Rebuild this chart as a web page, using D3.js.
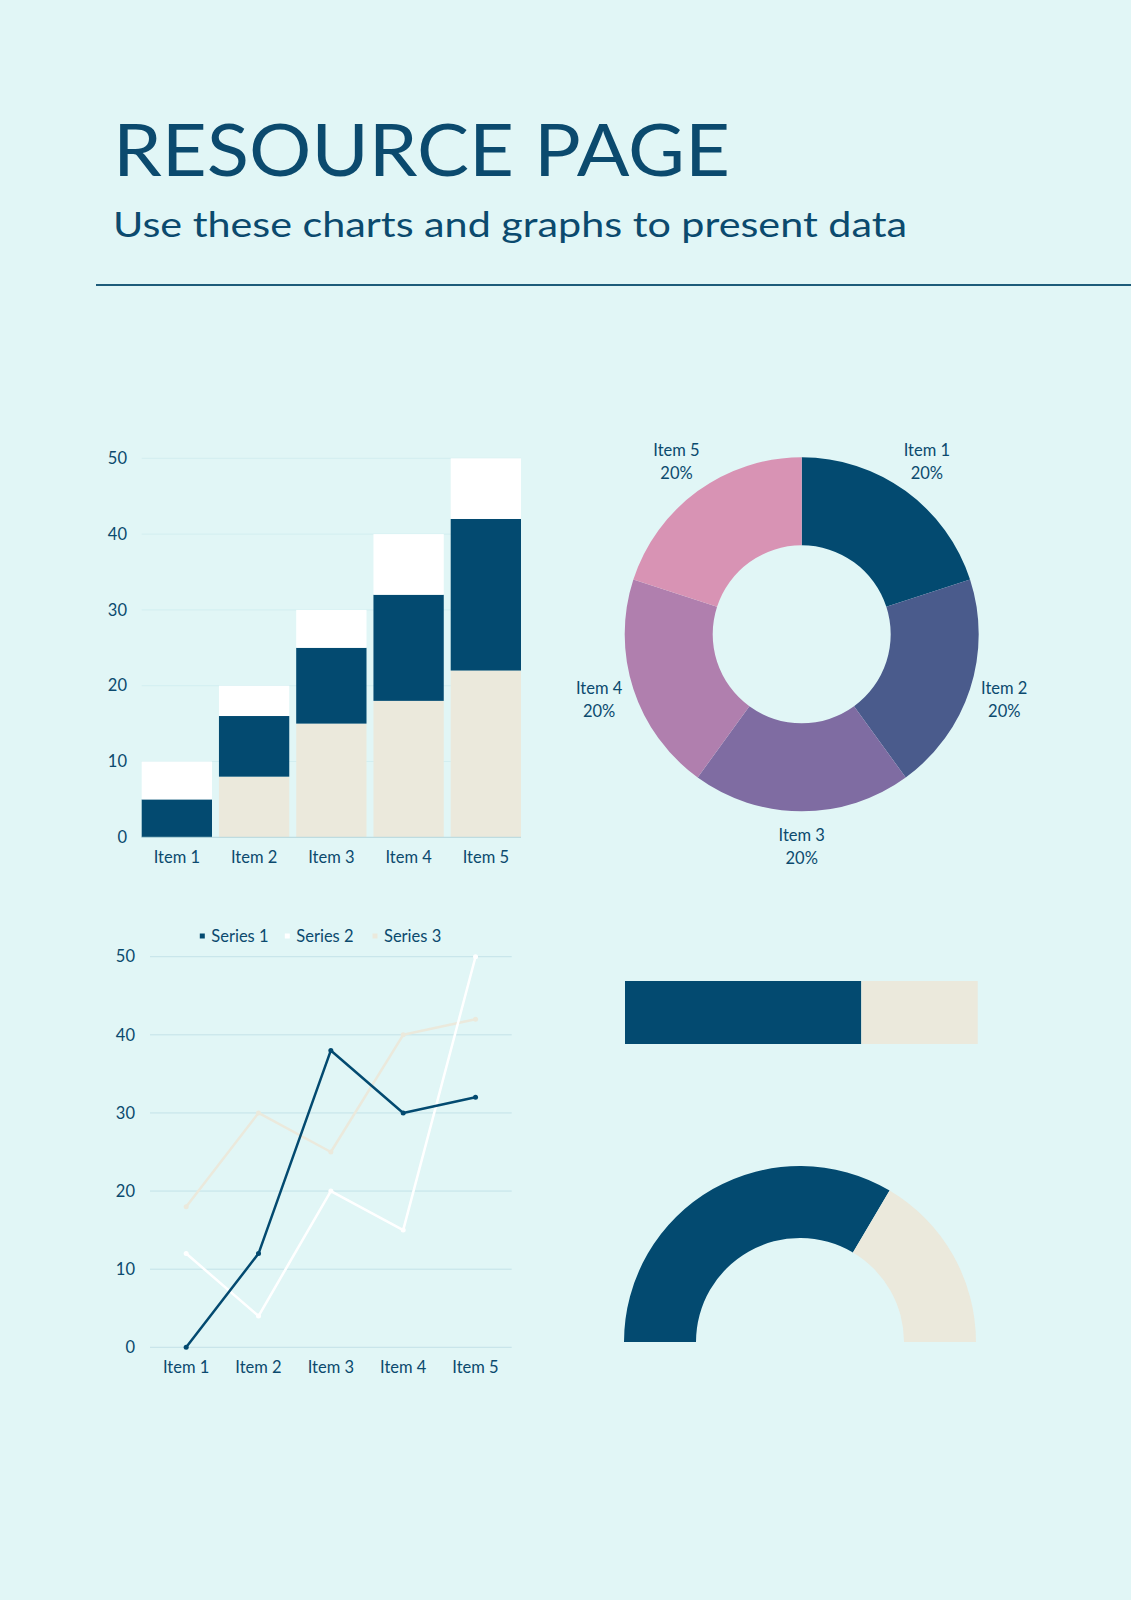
<!DOCTYPE html>
<html>
<head>
<meta charset="utf-8">
<script src="https://cdn.jsdelivr.net/npm/d3@7"></script>
<style>
  html, body { margin: 0; padding: 0; background: #e1f6f6; }
  svg { display: block; }
  text { font-family: Lato, "Noto Sans", sans-serif; fill: #0b4a6e; }
</style>
</head>
<body>
<svg id="page" width="1131" height="1600"></svg>
<script>
// ---------- DATA ----------
const titleText = "RESOURCE PAGE";
const subtitleText = "Use these charts and graphs to present data";

const categories = ["Item 1", "Item 2", "Item 3", "Item 4", "Item 5"];
const yTicks = [0, 10, 20, 30, 40, 50];

// Stacked bar chart (bottom to top)
const stackBeige = [0, 8, 15, 18, 22];
const stackNavy  = [5, 8, 10, 14, 20];
const stackWhite = [5, 4, 5, 8, 8];

// Line chart
const seriesNames = ["Series 1", "Series 2", "Series 3"];
const series1 = [0, 12, 38, 30, 32];
const series2 = [12, 4, 20, 15, 50];
const series3 = [18, 30, 25, 40, 42];

// Donut chart
const donutLabels = ["Item 1", "Item 2", "Item 3", "Item 4", "Item 5"];
const donutValues = [20, 20, 20, 20, 20];

// Progress bar & gauge
const progressValues = [67, 33];
const gaugeValues = [67, 33];

// ---------- STYLE ----------
const NAVY = "#034a70", BEIGE = "#ebe9dc", WHITE = "#ffffff";
const donutColors = ["#034a70", "#4a5b8c", "#7f6ca2", "#b07fae", "#d893b4"];
const lineColors = [NAVY, WHITE, BEIGE];
const FS = 16.5;

const svg = d3.select("#page");

// ---------- HEADER ----------
svg.append("text").attr("x", 113).attr("y", 176)
  .attr("font-size", 72).attr("textLength", 617).attr("lengthAdjust", "spacingAndGlyphs")
  .text(titleText);
svg.append("text").attr("x", 113).attr("y", 237)
  .attr("font-size", 35).attr("textLength", 794).attr("lengthAdjust", "spacingAndGlyphs")
  .text(subtitleText);
svg.append("line").attr("x1", 96).attr("x2", 1131).attr("y1", 285).attr("y2", 285)
  .attr("stroke", "#1d5c7a").attr("stroke-width", 2);

// ---------- STACKED BAR ----------
{
  const x = d3.scaleBand().domain(categories).range([141.7, 521]).paddingInner(0.09).paddingOuter(0);
  const y = d3.scaleLinear().domain([0, 50]).range([837.3, 458.3]);
  const g = svg.append("g");
  g.selectAll(".grid").data(yTicks.filter(t => t > 0)).join("line")
    .attr("x1", 141.7).attr("x2", 521).attr("y1", d => y(d)).attr("y2", d => y(d))
    .attr("stroke", "#d2eef0").attr("stroke-width", 1);
  const rows = categories.map((c, i) => ({ cat: c, beige: stackBeige[i], navy: stackNavy[i], white: stackWhite[i] }));
  const stack = d3.stack().keys(["beige", "navy", "white"])(rows);
  const colors = { beige: BEIGE, navy: NAVY, white: WHITE };
  stack.forEach(layer => {
    g.selectAll(null).data(layer).join("rect")
      .attr("x", d => x(d.data.cat))
      .attr("width", x.bandwidth())
      .attr("y", d => y(d[1]))
      .attr("height", d => y(d[0]) - y(d[1]))
      .attr("fill", colors[layer.key]);
  });
  g.append("line").attr("x1", 141.7).attr("x2", 521).attr("y1", y(0)).attr("y2", y(0))
    .attr("stroke", "#b5d6dd").attr("stroke-width", 1);
  g.selectAll(".yl").data(yTicks).join("text")
    .attr("x", 127).attr("y", d => y(d)).attr("dy", "0.35em")
    .attr("text-anchor", "end").attr("font-size", FS).text(d => d);
  g.selectAll(".xl").data(categories).join("text")
    .attr("x", d => x(d) + x.bandwidth() / 2).attr("y", 862.7)
    .attr("text-anchor", "middle").attr("font-size", FS).text(d => d);
}

// ---------- DONUT ----------
{
  const cx = 801.7, cy = 634.3;
  const pie = d3.pie().sort(null).value(d => d);
  const arcs = pie(donutValues);
  const arc = d3.arc().innerRadius(89).outerRadius(177);
  const labelArc = d3.arc().innerRadius(213).outerRadius(213);
  const g = svg.append("g").attr("transform", `translate(${cx},${cy})`);
  g.selectAll("path").data(arcs).join("path")
    .attr("d", arc).attr("fill", (d, i) => donutColors[i]);
  const total = d3.sum(donutValues);
  const lab = g.selectAll(".lab").data(arcs).join("text")
    .attr("text-anchor", "middle").attr("font-size", FS)
    .attr("transform", d => `translate(${labelArc.centroid(d)})`);
  lab.append("tspan").attr("x", 0).attr("y", -6).text((d, i) => donutLabels[i]);
  lab.append("tspan").attr("x", 0).attr("y", 17).text(d => Math.round(d.data / total * 100) + "%");
}

// ---------- LINE CHART ----------
{
  const x = d3.scaleBand().domain(categories).range([150, 511.7]);
  const y = d3.scaleLinear().domain([0, 50]).range([1347.3, 956.7]);
  const g = svg.append("g");
  g.selectAll(".grid").data(yTicks).join("line")
    .attr("x1", 150).attr("x2", 511.7).attr("y1", d => y(d)).attr("y2", d => y(d))
    .attr("stroke", "#c3e2e8").attr("stroke-width", 1);
  g.selectAll(".yl").data(yTicks).join("text")
    .attr("x", 135).attr("y", d => y(d)).attr("dy", "0.35em")
    .attr("text-anchor", "end").attr("font-size", FS).text(d => d);
  g.selectAll(".xl").data(categories).join("text")
    .attr("x", d => x(d) + x.bandwidth() / 2).attr("y", 1372.7)
    .attr("text-anchor", "middle").attr("font-size", FS).text(d => d);
  const allSeries = [series1, series2, series3];
  const line = d3.line().x((d, i) => x(categories[i]) + x.bandwidth() / 2).y(d => y(d));
  [2, 1, 0].forEach(si => {
    g.append("path").datum(allSeries[si]).attr("d", line)
      .attr("fill", "none").attr("stroke", lineColors[si]).attr("stroke-width", 2.5)
      .attr("stroke-linejoin", "round");
    g.selectAll(null).data(allSeries[si]).join("circle")
      .attr("cx", (d, i) => x(categories[i]) + x.bandwidth() / 2).attr("cy", d => y(d))
      .attr("r", 2.5).attr("fill", lineColors[si]);
  });
  // legend
  const legX = [202.3, 287.3, 375];
  seriesNames.forEach((n, i) => {
    g.append("rect").attr("x", legX[i] - 2.5).attr("y", 933.5).attr("width", 5).attr("height", 5)
      .attr("fill", lineColors[i]);
    g.append("text").attr("x", legX[i] + 9).attr("y", 936).attr("dy", "0.35em")
      .attr("font-size", FS).text(n);
  });
}

// ---------- PROGRESS BAR ----------
{
  const x = d3.scaleLinear().domain([0, d3.sum(progressValues)]).range([625, 977.7]);
  const cum = d3.cumsum(progressValues);
  svg.append("g").selectAll("rect").data(progressValues).join("rect")
    .attr("x", (d, i) => x(cum[i] - d)).attr("width", d => x(d) - x(0))
    .attr("y", 981).attr("height", 63)
    .attr("fill", (d, i) => [NAVY, BEIGE][i]);
}

// ---------- GAUGE ----------
{
  const pie = d3.pie().sort(null).startAngle(-Math.PI / 2).endAngle(Math.PI / 2);
  const arc = d3.arc().innerRadius(104).outerRadius(176);
  svg.append("g").attr("transform", "translate(800,1342)")
    .selectAll("path").data(pie(gaugeValues)).join("path")
    .attr("d", arc).attr("fill", (d, i) => [NAVY, BEIGE][i]);
}
</script>
</body>
</html>
